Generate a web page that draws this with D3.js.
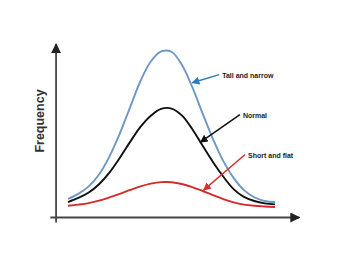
<!doctype html>
<html lang="en">
<head>
<meta charset="utf-8">
<title>Frequency curves</title>
<style>
  html, body { margin: 0; padding: 0; background: #fff; }
  svg { display: block; }
</style>
</head>
<body>
<div id="output"></div>
<script src="https://d3js.org/d3.v7.min.js"></script>
<script>
    // x positions (arbitrary units along the horizontal axis)
    var xs = [0,1,2,3,4,5,6,7,8,9,10,11,12,13,14,15,16,17,18,19,20];

    // frequency values (0..100 scale)
    var tallNarrow = [10.6,13.6,18.0,25.0,35.5,49.0,64.5,80.0,91.5,97.4,97.2,89.5,76.5,61.0,46.0,33.0,23.0,15.8,11.6,9.4,8.8];
    var normal     = [8.8,11.2,14.4,19.3,26.1,34.7,44.2,53.0,59.6,63.6,63.8,59.8,51.8,42.0,32.4,23.8,16.4,11.8,9.4,8.0,7.4];
    var shortFlat  = [6.6,7.3,8.2,9.6,11.5,13.6,15.9,18.0,19.6,20.5,20.4,19.4,17.6,15.3,12.9,10.5,8.6,7.3,6.6,6.2,5.9];

    var seriesNames  = ["Tall and narrow", "Normal", "Short and flat"];
    var seriesColors = ["#6f97c3", "#111111", "#d22b2b"];
    var arrowColors  = ["#2b7cc0", "#111111", "#d83030"];

    // label anchor (x, y in data units) and arrow tip on the curve
    var labelPos = [[14.9, 82], [16.9, 58.5], [17.4, 35]];
    var arrowTip = [[12.0, 79], [12.8, 44], [13.1, 15.8]];

    var width = 345, height = 270;

    var x = d3.scaleLinear().domain([0, 20]).range([68, 275]);
    var y = d3.scaleLinear().domain([0, 100]).range([217, 47]);

    var svg = d3.select("#output").append("svg")
        .attr("width", width)
        .attr("height", height);

    var defs = svg.append("defs");
    function marker(id, color, size) {
        defs.append("marker")
            .attr("id", id)
            .attr("viewBox", "0 0 10 10")
            .attr("refX", 9).attr("refY", 5)
            .attr("markerWidth", size).attr("markerHeight", size)
            .attr("markerUnits", "userSpaceOnUse")
            .attr("orient", "auto")
            .append("path")
            .attr("d", "M0,0L10,5L0,10z")
            .attr("fill", color);
    }
    marker("axisHead", "#222", 10);
    arrowColors.forEach(function (c, i) { marker("ah" + i, c, 8); });

    // axes: plain lines with arrow heads, no ticks
    var axisX = x(-1.2);
    var axisY = y(0);

    svg.append("g")
        .attr("transform", "translate(0," + axisY + ")")
        .call(d3.axisBottom(d3.scaleLinear().range([x(-1.75), x(22.3)])).ticks(0).tickSizeOuter(0))
        .select(".domain")
        .attr("stroke", "#444")
        .attr("stroke-width", 1.8)
        .attr("marker-end", "url(#axisHead)");

    svg.append("g")
        .attr("transform", "translate(" + axisX + ",0)")
        .call(d3.axisLeft(d3.scaleLinear().range([y(-3), y(102)])).ticks(0).tickSizeOuter(0))
        .select(".domain")
        .attr("stroke", "#444")
        .attr("stroke-width", 1.8)
        .attr("marker-end", "url(#axisHead)");

    svg.append("text")
        .attr("transform", "translate(" + 44 + "," + 121 + ") rotate(-90)")
        .attr("text-anchor", "middle")
        .attr("font-family", "Liberation Sans, Arial, sans-serif")
        .attr("font-weight", "bold")
        .attr("font-size", "12.5px")
        .attr("fill", "#333")
        .text("Frequency");

    var line = d3.line()
        .x(function (d) { return x(d[0]); })
        .y(function (d) { return y(d[1]); })
        .curve(d3.curveCatmullRom);

    var series = [tallNarrow, normal, shortFlat];
    series.forEach(function (vals, i) {
        svg.append("path")
            .datum(xs.map(function (v, j) { return [v, vals[j]]; }))
            .attr("d", line)
            .attr("fill", "none")
            .attr("stroke", seriesColors[i])
            .attr("stroke-width", 1.9);
    });

    // annotation arrows + labels
    seriesNames.forEach(function (name, i) {
        var lx = x(labelPos[i][0]), ly = y(labelPos[i][1]);
        svg.append("line")
            .attr("x1", lx - 3).attr("y1", ly - 3)
            .attr("x2", x(arrowTip[i][0])).attr("y2", y(arrowTip[i][1]))
            .attr("stroke", arrowColors[i])
            .attr("stroke-width", 1.5)
            .attr("marker-end", "url(#ah" + i + ")");
        svg.append("text")
            .attr("x", lx).attr("y", ly)
            .attr("font-family", "Liberation Sans, Arial, sans-serif")
            .attr("font-weight", "bold")
            .attr("font-size", "7px")
            .attr("fill", "#222")
            .text(name);
    });
</script>
</body>
</html>
